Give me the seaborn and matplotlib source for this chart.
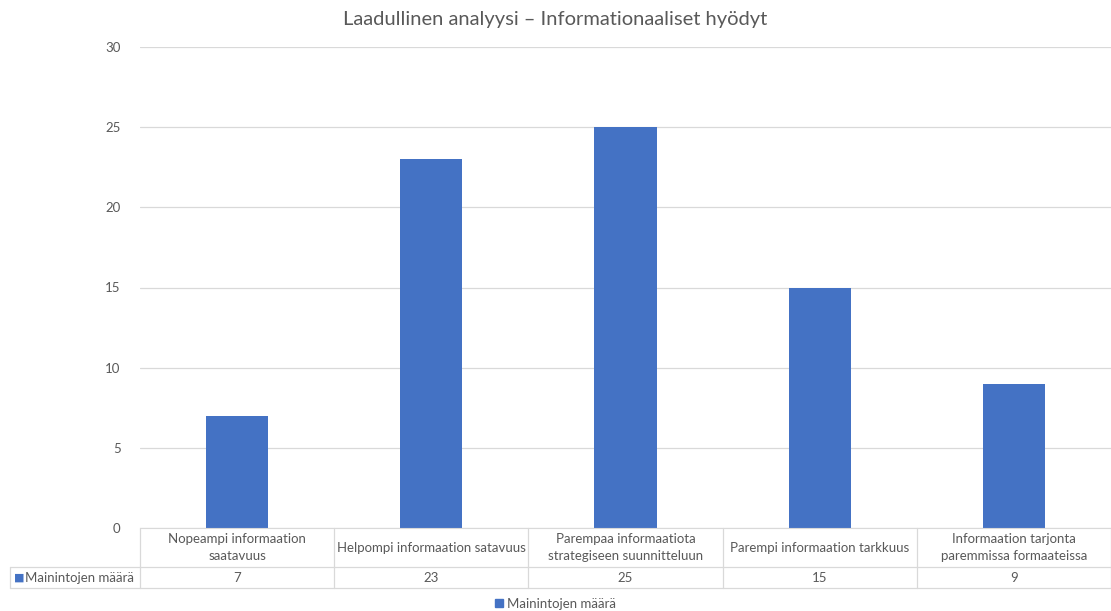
import matplotlib.pyplot as plt
import seaborn as sns
from matplotlib.lines import Line2D
from matplotlib.patches import Patch
import pandas as pd

categories = ['Nopeampi informaation\nsaatavuus',
              'Helpompi informaation satavuus',
              'Parempaa informaatiota\nstrategiseen suunnitteluun',
              'Parempi informaation tarkkuus',
              'Informaation tarjonta\nparemmissa formaateissa']
values = [7, 23, 25, 15, 9]
series_name = 'Mainintojen määrä'
title = 'Laadullinen analyysi – Informationaaliset hyödyt'

sns.set_style('white')
plt.rcParams['font.family'] = ['Lato', 'DejaVu Sans']

blue = '#4472C4'
grey_text = '#595959'
grid_col = '#D9D9D9'

df = pd.DataFrame({'cat': categories, 'val': values})

fig = plt.figure(figsize=(11.11, 6.11), dpi=100)
ax = fig.add_axes([140 / 1111, 1 - 528 / 611, 971 / 1111, 481 / 611])
sns.barplot(data=df, x='cat', y='val', color=blue, width=0.32, saturation=1,
            linewidth=0, ax=ax)

ax.set_ylim(0, 30)
ax.set_xlim(-0.5, len(categories) - 0.5)
ax.set_yticks(range(0, 31, 5))
ax.yaxis.grid(True, color=grid_col, linewidth=0.9)
ax.set_axisbelow(True)
for s in ['top', 'right', 'left']:
    ax.spines[s].set_visible(False)
ax.spines['bottom'].set_color(grid_col)
ax.tick_params(axis='y', length=0, labelsize=9.5, labelcolor=grey_text, pad=14)
ax.set_xticks([])
ax.set_xlabel('')
ax.set_ylabel('')
fig.text(0.5, 1 - 19 / 611, title, ha='center', va='center', fontsize=14.5, color=grey_text)

# data table under the axis
axh = 481.0
y_head = -39 / axh
y_bot = -60 / axh
x_left = (10 - 140) / 971.0 * len(categories) - 0.5
tr = ax.get_xaxis_transform()
lkw = dict(color=grid_col, linewidth=0.9, transform=tr, clip_on=False)
ax.add_line(Line2D([x_left, len(categories) - 0.5], [y_head, y_head], **lkw))
ax.add_line(Line2D([x_left, len(categories) - 0.5], [y_bot, y_bot], **lkw))
ax.add_line(Line2D([x_left, x_left], [y_head, y_bot], **lkw))
for i in range(len(categories) + 1):
    ax.add_line(Line2D([i - 0.5, i - 0.5], [0, y_bot], **lkw))
for i, (c, v) in enumerate(zip(categories, values)):
    ax.text(i, y_head / 2, c, transform=tr, ha='center', va='center',
            fontsize=9.5, color=grey_text, linespacing=1.55)
    ax.text(i, (y_head + y_bot) / 2, str(v), transform=tr, ha='center', va='center',
            fontsize=9.5, color=grey_text)
ax.text(x_left + 0.02, (y_head + y_bot) / 2, '■', transform=tr, ha='left', va='center',
        fontsize=8, color=blue, family=['DejaVu Sans'])
ax.text(x_left + 0.075, (y_head + y_bot) / 2, series_name, transform=tr, ha='left',
        va='center', fontsize=9.5, color=grey_text)

fig.legend(handles=[Patch(color=blue, label=series_name)], loc='center',
           bbox_to_anchor=(0.5, 1 - 604 / 611), frameon=False, fontsize=9.5,
           handlelength=0.55, handleheight=0.55, handletextpad=0.3, labelcolor=grey_text)

fig.savefig('out.png', dpi=100, facecolor='white')
